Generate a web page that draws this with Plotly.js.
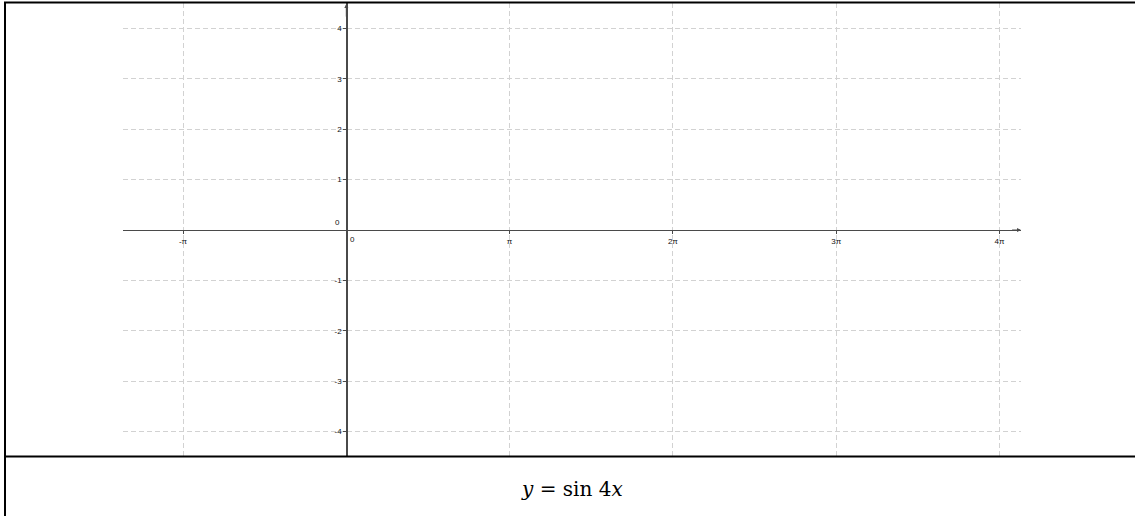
<!DOCTYPE html>
<html>
<head>
<meta charset="utf-8">
<script src="https://cdn.plot.ly/plotly-3.0.1.min.js"></script>
<style>
html,body{margin:0;padding:0;background:#fff;}
#chart{width:1135px;height:516px;}
</style>
</head>
<body>
<div id="chart"></div>
<script>
// Data (tick positions and labels)
const xTickMultiplesOfPi = [-1, 0, 1, 2, 3, 4];
const xTickLabels = ["-π", "", "π", "2π", "3π", "4π"];
const yTickValues = [-4, -3, -2, -1, 0, 1, 2, 3, 4];
const yTickLabels = ["-4", "-3", "-2", "-1", "", "1", "2", "3", "4"];
const xRangeMultiplesOfPi = [-1.3674, 4.1317];
const yRange = [-4.484, 4.504];
const caption = "<i>y</i> = sin 4<i>x</i>";

const PI = Math.PI;
const xTickVals = xTickMultiplesOfPi.map(m => m * PI);
const xRange = xRangeMultiplesOfPi.map(m => m * PI);

const gridColor = '#d2d2d2';
const axisColor = '#4a4a4a';
const tickFont = {family: 'Liberation Sans, Arial, sans-serif', size: 8, color: '#111'};

const data = [{x: [], y: [], type: 'scatter', mode: 'lines', hoverinfo: 'skip', showlegend: false}];

const layout = {
  width: 1135, height: 516,
  margin: {l: 0, r: 0, t: 0, b: 0, pad: 0},
  paper_bgcolor: '#fff', plot_bgcolor: 'rgba(0,0,0,0)',
  showlegend: false,
  xaxis: {
    domain: [123/1135, 1021/1135],
    range: xRange,
    anchor: 'free', position: (516-230)/516,
    tickmode: 'array', tickvals: xTickVals, ticktext: xTickLabels,
    ticks: 'outside', ticklen: 3, tickcolor: axisColor, tickwidth: 1,
    tickfont: tickFont,
    showline: true, linecolor: axisColor, linewidth: 1.2,
    showgrid: true, gridcolor: gridColor, gridwidth: 1, griddash: '5px,3px',
    zeroline: false, fixedrange: true
  },
  yaxis: {
    domain: [(516-456)/516, (516-3)/516],
    range: yRange,
    anchor: 'free', position: 346.3/1135,
    tickmode: 'array', tickvals: yTickValues, ticktext: yTickLabels,
    ticks: 'outside', ticklen: 3, tickcolor: axisColor, tickwidth: 1,
    tickfont: tickFont,
    showline: true, linecolor: axisColor, linewidth: 1.2,
    showgrid: true, gridcolor: gridColor, gridwidth: 1, griddash: '5px,3px',
    zeroline: false, fixedrange: true
  },
  annotations: [
    {x: 0, y: 0, xref: 'x', yref: 'y', text: '0', showarrow: false,
     xanchor: 'left', yanchor: 'top', xshift: 2, yshift: -3, font: tickFont},
    {x: 0, y: 0, xref: 'x', yref: 'y', text: '0', showarrow: false,
     xanchor: 'right', yanchor: 'bottom', xshift: -4, yshift: 1, font: tickFont},
    // axis arrowheads
    {x: xRange[1], y: 0, xref: 'x', yref: 'y', ax: xRange[1] - 0.2, ay: 0, axref: 'x', ayref: 'y',
     text: '', showarrow: true, arrowhead: 2, arrowsize: 0.8, arrowwidth: 1, arrowcolor: axisColor},
    {x: 0, y: yRange[1] - 0.02, xref: 'x', yref: 'y', ax: 0, ay: yRange[1] - 0.3, axref: 'x', ayref: 'y',
     text: '', showarrow: true, arrowhead: 2, arrowsize: 0.8, arrowwidth: 1, arrowcolor: axisColor},
    {x: 572/1135, y: (516-489)/516, xref: 'paper', yref: 'paper', text: caption, showarrow: false,
     xanchor: 'center', yanchor: 'middle',
     font: {family: 'DejaVu Serif, Liberation Serif, serif', size: 20, color: '#000'}}
  ],
  shapes: [
    {type: 'line', xref: 'paper', yref: 'paper', x0: 5/1135, x1: 5/1135, y0: 0, y1: (516-2)/516,
     line: {color: '#000', width: 2}},
    {type: 'line', xref: 'paper', yref: 'paper', x0: 4/1135, x1: 1, y0: (516-2.5)/516, y1: (516-2.5)/516,
     line: {color: '#000', width: 2}},
    {type: 'line', xref: 'paper', yref: 'paper', x0: 4/1135, x1: 1, y0: (516-456.5)/516, y1: (516-456.5)/516,
     line: {color: '#000', width: 2}}
  ]
};

Plotly.newPlot('chart', data, layout, {displayModeBar: false, staticPlot: true});
</script>
</body>
</html>
